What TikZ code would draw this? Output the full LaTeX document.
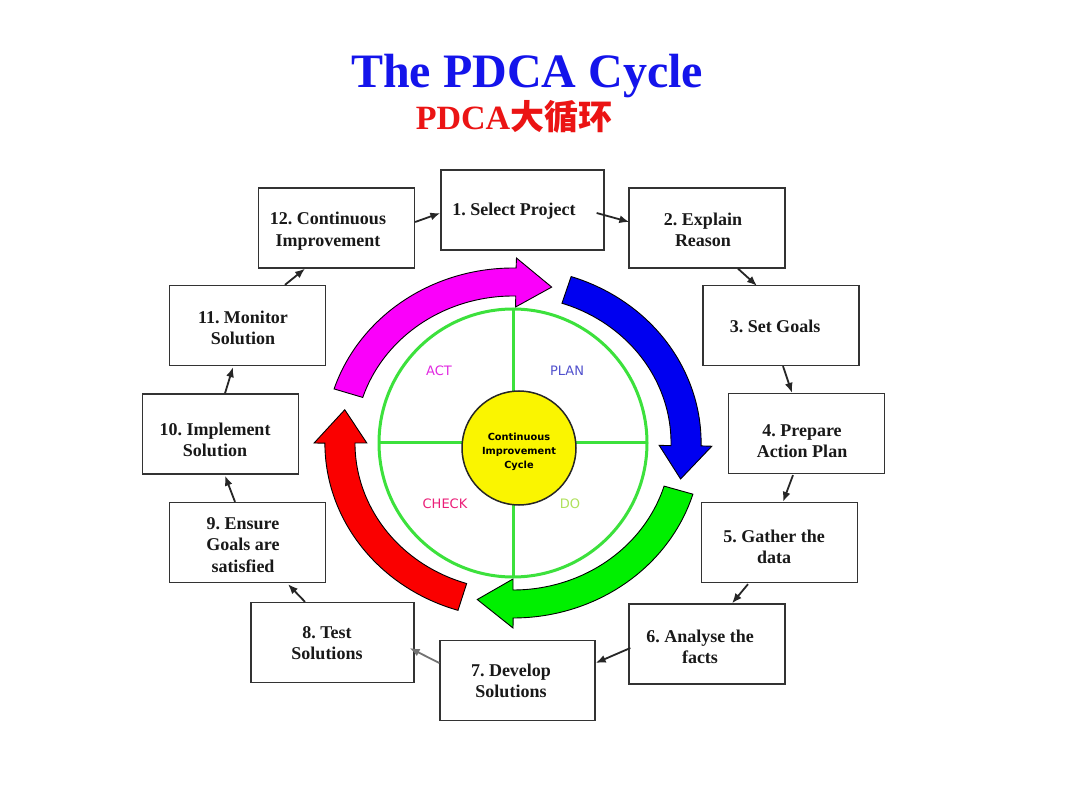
\documentclass[tikz,border=0pt]{standalone}
\usepackage{fontspec}
\setmainfont{Liberation Serif}
\newfontfamily\cjkfont{Noto Sans CJK SC}
\newfontfamily\labelfont{DejaVu Sans}
\usetikzlibrary{arrows.meta,calc}
\definecolor{titleblue}{RGB}{20,20,235}
\definecolor{titlered}{RGB}{235,20,20}
\definecolor{ringblue}{RGB}{0,0,240}
\definecolor{ringgreen}{RGB}{0,240,0}
\definecolor{ringred}{RGB}{250,0,0}
\definecolor{ringmag}{RGB}{250,0,250}
\definecolor{wheelgreen}{RGB}{60,225,60}
\definecolor{hubyellow}{RGB}{250,245,0}
\definecolor{actc}{RGB}{225,40,225}
\definecolor{planc}{RGB}{80,80,205}
\definecolor{checkc}{RGB}{235,30,120}
\definecolor{doc}{RGB}{175,225,90}
\newcommand\ringarrow[2]{%
  \filldraw[ringstyle, fill=#1]
    plot[domain=0:1, samples=60] ({175*cos(#2+73-73*\x)},{175*sin(#2+73-73*\x)})
    -- (#2:185) -- (#2-12:160) -- (#2:136)
    -- plot[domain=0:1, samples=60] ({147*cos(#2+73*\x)},{147*sin(#2+73*\x)})
    -- cycle;}
\begin{document}
\frenchspacing
\begin{tikzpicture}[x=1pt,y=-1pt,
  box/.style={draw=black!80, line width=1.3pt, fill=white, minimum width=156pt, minimum height=80pt, inner sep=0pt},
  widebox/.style={box, minimum width=163pt},
  boxtext/.style={font=\fontsize{18}{21.5}\selectfont\bfseries, align=center, text=black!90, inner sep=0pt},
  conn/.style={draw=black!85, line width=1.8pt, -{Latex[length=10pt,width=8pt]}},
  lightconn/.style={conn, draw=black!55},
  ringstyle/.style={draw=black, line width=0.9pt},
  lab/.style={font=\labelfont\fontsize{13}{13}\selectfont, inner sep=0pt}]
\useasboundingbox[fill=white] (0,0) rectangle (1080,810);

% title
\node[anchor=base, text=titleblue, font=\fontsize{48}{48}\selectfont\bfseries, inner sep=0pt] (title) at (527,88) {The PDCA Cycle};
\node[anchor=base, text=titlered, font=\fontsize{34}{34}\selectfont\bfseries, inner sep=0pt] (subtitle) at (514,130) {PDCA{\cjkfont\bfseries 大循环}};

% ring arrows
\begin{scope}[shift={(513,443)}, x=1.075pt, y=1pt]
  \ringarrow{ringblue}{-1}
  \ringarrow{ringgreen}{-90}
  \ringarrow{ringred}{180}
  \ringarrow{ringmag}{89}
\end{scope}

% wheel
\draw[wheelgreen, line width=3pt] (513,443) circle[radius=134];
\draw[wheelgreen, line width=3pt] (379,443) -- (647,443) (513,309) -- (513,577);
\filldraw[fill=hubyellow, draw=black!85, line width=1.5pt] (519,448) circle[radius=57];
\node[font=\labelfont\bfseries\fontsize{9.8}{14}\selectfont, align=center, inner sep=0pt] (hub) at (519,452) {Continuous\\Improvement\\Cycle};
\node[lab, text=actc] (act) at (439,371) {ACT};
\node[lab, text=planc] (plan) at (567,371) {PLAN};
\node[lab, text=checkc] (check) at (445,504) {CHECK};
\node[lab, text=doc] (do) at (570,504) {DO};

% boxes
\node[widebox] (b1) at (522.5,210) {};
\node[box] (b2) at (707,228) {};
\node[box] (b3) at (781,325.5) {};
\node[box] (b4) at (806.5,433.5) {};
\node[box] (b5) at (779.5,542.5) {};
\node[box] (b6) at (707,644) {};
\node[box, minimum width=155pt] (b7) at (517.5,680.5) {};
\node[widebox] (b8) at (332.5,642.5) {};
\node[box] (b9) at (247.5,542.5) {};
\node[box] (b10) at (220.5,434) {};
\node[box] (b11) at (247.5,325.5) {};
\node[box] (b12) at (336.5,228) {};

\node[boxtext] (t1) at (514,211) {1. Select Project};
\node[boxtext] (t2) at (703,230) {2. Explain\\Reason};
\node[boxtext] (t3) at (775,326) {3. Set Goals};
\node[boxtext] (t4) at (802,441) {4. Prepare\\Action Plan};
\node[boxtext] (t5) at (774,547) {5. Gather the\\data};
\node[boxtext] (t6) at (700,647) {6. Analyse the\\facts};
\node[boxtext] (t7) at (511,681) {7. Develop\\Solutions};
\node[boxtext] (t8) at (327,643) {8. Test\\Solutions};
\node[boxtext] (t9) at (243,545) {9. Ensure\\Goals are\\satisfied};
\node[boxtext] (t10) at (215,440) {10. Implement\\Solution};
\node[boxtext] (t11) at (243,328) {11. Monitor\\Solution};
\node[boxtext] (t12) at (328,231) {12. Continuous\\Improvement};

% connectors
\draw[conn] ($(b12.east)+(0,-6)$) -- ($(b1.west)+(0,3)$);
\draw[conn] ($(b1.east)+(-8,3)$) -- ($(b2.west)+(1,-6)$);
\draw[conn] ($(b2.south)+(31,0)$) -- ($(b3.north)+(-24,1)$);
\draw[conn] ($(b3.south)+(2,0)$) -- ($(b4.north)+(-14.5,0)$);
\draw[conn] ($(b4.south)+(-13.5,1)$) -- ($(b5.north)+(3.5,0)$);
\draw[conn] ($(b5.south)+(-31.5,1)$) -- ($(b6.north)+(25,0)$);
\draw[conn] ($(b6.west)+(2,4)$) -- ($(b7.east)+(0,-17.5)$);
\draw[lightconn] ($(b7.west)+(0,-17.5)$) -- ($(b8.east)+(-5,5.5)$);
\draw[conn] ($(b8.north)+(-27.5,0)$) -- ($(b9.south)+(40.5,1)$);
\draw[conn] ($(b9.north)+(-12.5,0)$) -- ($(b10.south)+(4.5,1)$);
\draw[conn] ($(b10.north)+(4.5,0)$) -- ($(b11.south)+(-14.5,1)$);
\draw[conn] ($(b11.north)+(37.5,0)$) -- ($(b12.south)+(-31.5,0)$);
\end{tikzpicture}
\end{document}
